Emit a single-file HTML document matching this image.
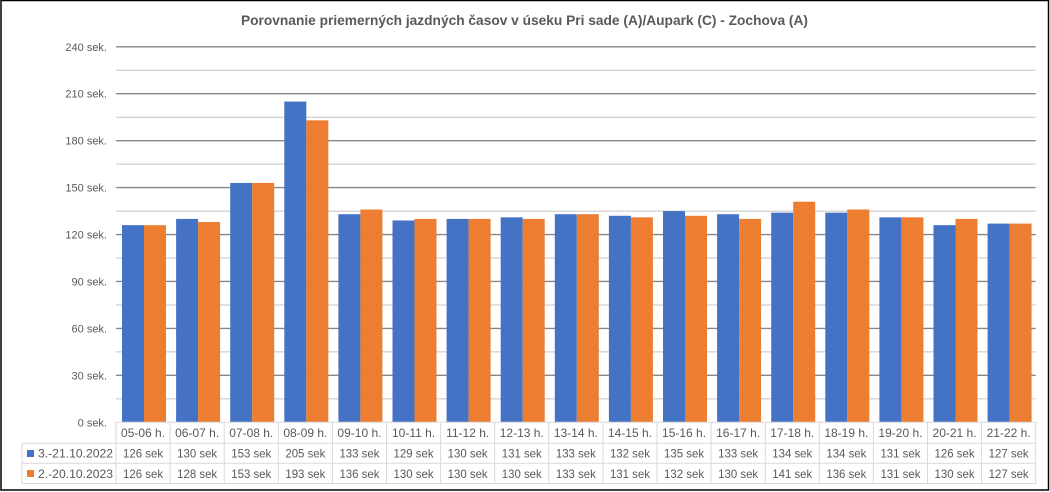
<!DOCTYPE html>
<html><head><meta charset="utf-8"><style>
html,body{margin:0;padding:0;background:#fff;}
svg{display:block;}
text{font-family:"Liberation Sans",sans-serif;fill:#595959;}
</style></head><body>
<svg width="1050" height="492" viewBox="0 0 1050 492" xmlns="http://www.w3.org/2000/svg">
<rect x="0" y="0" width="1050" height="492" fill="#fff"/>
<rect x="1" y="0.5" width="1047.5" height="489.5" fill="none" stroke="#000" stroke-width="1.5"/>
<text x="524.5" y="25" font-size="14" font-weight="bold" text-anchor="middle" textLength="567" lengthAdjust="spacingAndGlyphs">Porovnanie priemerných jazdných časov v úseku Pri sade (A)/Aupark (C) - Zochova (A)</text>
<g id="grid"></g>
<g id="bars"></g>
<g id="table"></g>
</svg>
<script>
(function(){
var NS="http://www.w3.org/2000/svg";
function el(p,n,a,t){var e=document.createElementNS(NS,n);for(var k in a)e.setAttribute(k,a[k]);if(t!==undefined)e.textContent=t;p.appendChild(e);return e;}
var grid=document.getElementById('grid'),bars=document.getElementById('bars'),tbl=document.getElementById('table');
var y0=422.3,k=1.5646,L=116,R=1035.7,P=(R-L)/17;
function Y(v){return y0-v*k;}
for(var v=15;v<=240;v+=15){
  var maj=(v%30===0);
  el(grid,'line',{x1:L,x2:R,y1:Y(v),y2:Y(v),stroke:maj?'#878787':'#c4c4c4','stroke-width':maj?1.4:1});
}
for(var v=0;v<=240;v+=30){
  el(grid,'text',{x:107,y:Y(v)+4,'font-size':11,'text-anchor':'end'},v+' sek.');
}
var cats=['05-06 h.','06-07 h.','07-08 h.','08-09 h.','09-10 h.','10-11 h.','11-12 h.','12-13 h.','13-14 h.','14-15 h.','15-16 h.','16-17 h.','17-18 h.','18-19 h.','19-20 h.','20-21 h.','21-22 h.'];
var a=[126,130,153,205,133,129,130,131,133,132,135,133,134,134,131,126,127];
var b=[126,128,153,193,136,130,130,130,133,131,132,130,141,136,131,130,127];
for(var i=0;i<17;i++){
  var l=L+P*i;
  el(bars,'rect',{x:l+6,y:Y(a[i]),width:22,height:a[i]*k,fill:'#4472c4'});
  el(bars,'rect',{x:l+28,y:Y(b[i]),width:22,height:b[i]*k,fill:'#ed7d31'});
  var c=l+P/2;
  el(tbl,'text',{x:c,y:437,'font-size':12,'text-anchor':'middle'},cats[i]);
  el(tbl,'text',{x:c,y:457.5,'font-size':12,'text-anchor':'middle',textLength:40,lengthAdjust:'spacingAndGlyphs'},a[i]+' sek');
  el(tbl,'text',{x:c,y:478,'font-size':12,'text-anchor':'middle',textLength:40,lengthAdjust:'spacingAndGlyphs'},b[i]+' sek');
}
var bc='#d9d9d9';
el(tbl,'line',{x1:L,x2:R,y1:y0,y2:y0,stroke:bc,'stroke-width':1});
[443.3,463.3,483.5].forEach(function(y){el(tbl,'line',{x1:22,x2:R,y1:y,y2:y,stroke:bc,'stroke-width':1});});
for(var i=0;i<=17;i++){var x=L+P*i;el(tbl,'line',{x1:x,x2:x,y1:y0,y2:483.5,stroke:bc,'stroke-width':1});}
el(tbl,'line',{x1:22,x2:22,y1:443.3,y2:483.5,stroke:bc,'stroke-width':1});
el(tbl,'rect',{x:27,y:450,width:7,height:7,fill:'#4472c4'});
el(tbl,'rect',{x:27,y:470,width:7,height:7,fill:'#ed7d31'});
el(tbl,'text',{x:38,y:457.5,'font-size':12,textLength:75,lengthAdjust:'spacingAndGlyphs'},'3.-21.10.2022');
el(tbl,'text',{x:38,y:478,'font-size':12,textLength:75,lengthAdjust:'spacingAndGlyphs'},'2.-20.10.2023');
})();
</script>
</body></html>
